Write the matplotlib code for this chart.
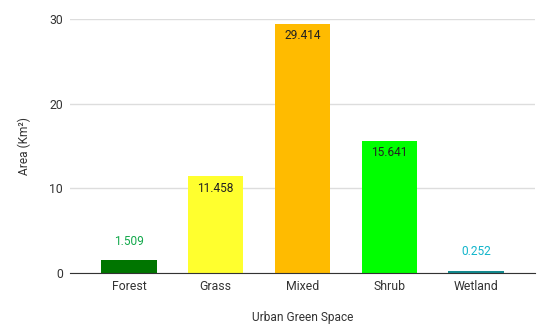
import matplotlib.pyplot as plt

plt.rcParams['font.family'] = ['Roboto', 'DejaVu Sans']

categories = ["Forest", "Grass", "Mixed", "Shrub", "Wetland"]
areas = [1.509, 11.458, 29.414, 15.641, 0.252]
bar_colors = ["#007500", "#ffff2e", "#ffbb00", "#00ff00", "#138a8f"]
label_colors = ["#12a84b", "#222222", "#222222", "#222222", "#12b5cb"]
label_inside = [False, True, True, True, False]
y_ticks = [0, 10, 20, 30]

fig = plt.figure(figsize=(5.5, 3.31), dpi=100)
ax = fig.add_axes([0.127, 0.175, 0.846, 0.768])

x = range(len(categories))
ax.bar(x, areas, width=0.64, color=bar_colors, zorder=3)

for i, v in enumerate(areas):
    if label_inside[i]:
        ax.annotate(f"{v:.3f}", (i, v), xytext=(0, -4), textcoords="offset points",
                    ha="center", va="top", fontsize=8.6, color=label_colors[i], zorder=4)
    else:
        ax.annotate(f"{v:.3f}", (i, v), xytext=(0, 9), textcoords="offset points",
                    ha="center", va="bottom", fontsize=8.6, color=label_colors[i], zorder=4)

ax.set_xlim(-0.68, 4.68)
ax.set_ylim(0, 30)
ax.set_yticks(y_ticks)
ax.set_xticks(list(x))
ax.set_xticklabels(categories)
ax.tick_params(axis="both", length=0, labelsize=8.8, labelcolor="#333333")
ax.tick_params(axis="y", pad=5)
ax.tick_params(axis="x", pad=5)
ax.grid(axis="y", color="#dddddd", linewidth=1, zorder=0)
for s in ["top", "right", "left"]:
    ax.spines[s].set_visible(False)
ax.spines["bottom"].set_color("#333333")
ax.spines["bottom"].set_zorder(5)

ax.set_xlabel("Urban Green Space", fontsize=8.6, color="#333333", labelpad=13)
ax.set_ylabel("Area (Km²)", fontsize=8.6, color="#333333", labelpad=13)

fig.savefig("out.png", dpi=100)
